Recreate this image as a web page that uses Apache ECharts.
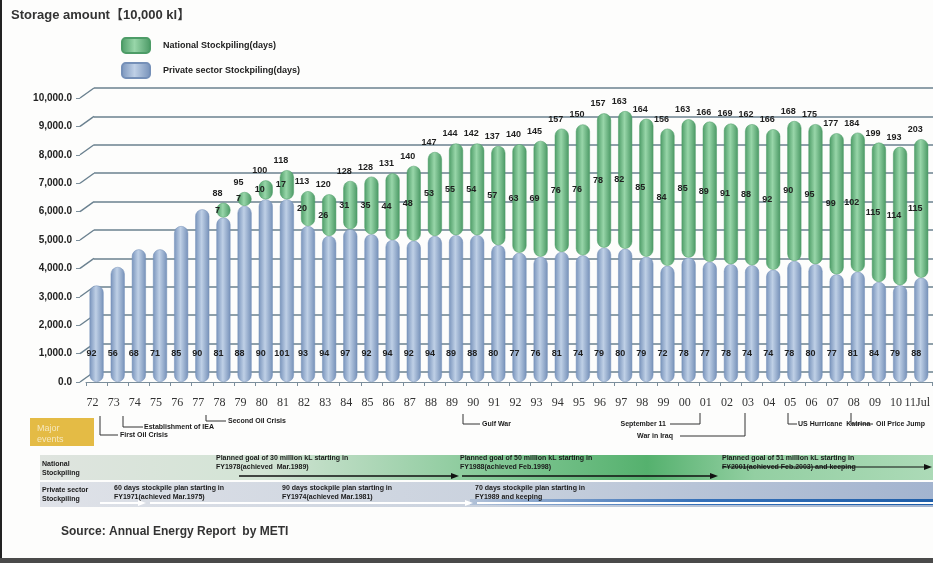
<!DOCTYPE html>
<html>
<head>
<meta charset="utf-8">
<script src="https://cdn.jsdelivr.net/npm/echarts@6/dist/echarts.min.js"></script>
<style>
  html, body { margin: 0; padding: 0; background: #fdfdfc; }
  #main { width: 933px; height: 563px; }
</style>
</head>
<body>
<div id="main"></div>
<script>
// 年份 (横轴)
var years = ['72','73','74','75','76','77','78','79','80','81','82','83','84','85','86','87','88','89','90','91',
             '92','93','94','95','96','97','98','99','00','01','02','03','04','05','06','07','08','09','10','11Jul'];
// 民间储备量 (万kl)
var privAmount = [3400,4050,4670,4670,5490,6080,5790,6200,6430,6430,
                  5490,5140,5380,5200,5000,4970,5140,5170,5170,4820,
                  4550,4410,4580,4460,4730,4690,4410,4090,4380,4230,
                  4150,4110,3950,4260,4150,3790,3880,3520,3410,3670];
// 国家储备量 (万kl)
var natAmount = [null,null,null,null,null,null,520,490,670,1030,
                 1230,1470,1700,2030,2350,2640,2960,3230,3230,3490,
                 3820,4080,4340,4610,4730,4850,4860,4830,4870,4940,
                 4950,4970,4950,4930,4930,4970,4900,4910,4870,4880];
// 天数
var privDays = [92,56,68,71,85,90,81,88,90,101,93,94,97,92,94,92,94,89,88,80,
                77,76,81,74,79,80,79,72,78,77,78,74,74,78,80,77,81,84,79,88];
var natDays = [null,null,null,null,null,null,7,7,10,17,20,26,31,35,44,48,53,55,54,57,
               63,69,76,76,78,82,85,84,85,89,91,88,92,90,95,99,102,115,114,115];
var totalDays = [null,null,null,null,null,null,88,95,100,118,113,120,128,128,131,140,147,144,142,137,
                 140,145,157,150,157,163,164,156,163,166,169,162,166,168,175,177,184,199,193,203];
// 纵轴刻度
var yTicks = [0,1000,2000,3000,4000,5000,6000,7000,8000,9000,10000];

var chart = echarts.init(document.getElementById('main'));

var blueFill = new echarts.graphic.LinearGradient(0, 0, 1, 0, [
    {offset: 0, color: '#7893bb'}, {offset: 0.45, color: '#bfd0e6'}, {offset: 1, color: '#7590b8'}]);
var greenFill = new echarts.graphic.LinearGradient(0, 0, 1, 0, [
    {offset: 0, color: '#4d9c67'}, {offset: 0.45, color: '#98d6a9'}, {offset: 1, color: '#4a9864'}]);

var totals = privAmount.map(function (v, i) {
    return natAmount[i] == null ? null : v + natAmount[i];
});

function fmtY(v) {
    return v.toLocaleString('en-US', {minimumFractionDigits: 1, maximumFractionDigits: 1});
}

var smallFont = {fontFamily: 'Liberation Sans, Arial', fontSize: 7, fontWeight: 'bold', fill: '#1a1a1a', lineHeight: 9};

function txt(x, y, s, extra) {
    var st = Object.assign({text: s, x: x, y: y}, smallFont, extra || {});
    return {type: 'text', silent: true, style: st};
}
function pline(points, color, w) {
    return {type: 'polyline', silent: true, shape: {points: points}, style: {stroke: color || '#333', lineWidth: w || 1, fill: null}};
}
function arrow(x1, x2, y, color, w) {
    return [
        {type: 'line', silent: true, shape: {x1: x1, y1: y, x2: x2 - 6, y2: y}, style: {stroke: color, lineWidth: w}},
        {type: 'polygon', silent: true, shape: {points: [[x2 - 8, y - 3], [x2, y], [x2 - 8, y + 3]]}, style: {fill: color}}
    ];
}

// 下方 事件与计划说明
var graphics = [
    {type: 'rect', silent: true, shape: {x: 0, y: 0, width: 2, height: 563}, style: {fill: '#222'}},
    {type: 'rect', silent: true, shape: {x: 0, y: 558, width: 933, height: 5}, style: {fill: '#4a4a4a'}},
    {type: 'rect', silent: true, shape: {x: 30, y: 418, width: 64, height: 28}, style: {fill: '#e4bb45'}},
    txt(37, 423, 'Major\nevents', {fontSize: 9, fontWeight: 'normal', fill: '#f6e7bd', lineHeight: 11}),
    pline([[100, 416], [100, 435], [118, 435]]), txt(120, 431, 'First Oil Crisis'),
    pline([[123, 416], [123, 427], [143, 427]]), txt(144, 423, 'Establishment of IEA'),
    pline([[206, 415], [206, 421], [226, 421]]), txt(228, 417, 'Second Oil Crisis'),
    pline([[463, 414], [463, 424], [480, 424]]), txt(482, 420, 'Gulf War'),
    txt(666, 420, 'September 11', {align: 'right'}), pline([[670, 424], [700, 424], [700, 413]]),
    txt(673, 432, 'War in Iraq', {align: 'right'}), pline([[680, 436], [745, 436], [745, 413]]),
    pline([[788, 413], [788, 424], [797, 424]]), txt(798, 420, 'US Hurricane  Katrina'),
    pline([[851, 413], [851, 424], [873, 424]]), txt(876, 420, 'Oil Price Jump'),
    {type: 'rect', silent: true, shape: {x: 40, y: 455, width: 893, height: 25},
     style: {fill: new echarts.graphic.LinearGradient(0, 0, 1, 0, [
        {offset: 0, color: '#dfe4df'}, {offset: 0.25, color: '#d3e4d5'}, {offset: 0.5, color: '#86c998'},
        {offset: 0.68, color: '#55b16e'}, {offset: 0.8, color: '#93cfa2'}, {offset: 1, color: '#acdab7'}])}},
    {type: 'rect', silent: true, shape: {x: 40, y: 482, width: 893, height: 25},
     style: {fill: new echarts.graphic.LinearGradient(0, 0, 1, 0, [
        {offset: 0, color: '#dfe2e8'}, {offset: 0.5, color: '#cad2de'}, {offset: 1, color: '#a3b4cf'}])}},
    {type: 'rect', silent: true, shape: {x: 470, y: 499, width: 463, height: 6},
     style: {fill: new echarts.graphic.LinearGradient(0, 0, 1, 0, [
        {offset: 0, color: 'rgba(40,100,180,0.15)'}, {offset: 0.5, color: '#3570b8'}, {offset: 1, color: '#1f5ea8'}])}},
    txt(42, 460, 'National\nStockpiling'),
    txt(216, 454, 'Planned goal of 30 million kL starting in\nFY1978(achieved  Mar.1989)'),
    txt(460, 454, 'Planned goal of 50 million kL starting in\nFY1988(achieved Feb.1998)'),
    txt(722, 454, 'Planned goal of 51 million kL starting in\nFY2001(achieved Feb.2003) and keeping'),
    txt(42, 486, 'Private sector\nStockpiling'),
    txt(114, 484, '60 days stockpile plan starting in\nFY1971(achieved Mar.1975)'),
    txt(282, 484, '90 days stockpile plan starting in\nFY1974(achieved Mar.1981)'),
    txt(475, 484, '70 days stockpile plan starting in\nFY1989 and keeping'),
    {type: 'text', silent: true, style: {text: 'Source: Annual Energy Report  by METI', x: 61, y: 526,
        fontFamily: 'Liberation Sans, Arial', fontSize: 12, fontWeight: 'bold', fill: '#333'}}
];
graphics = graphics
    .concat(arrow(239, 459, 476, '#111', 1.6))
    .concat(arrow(462, 718, 476, '#111', 1.6))
    .concat(arrow(722, 932, 467, '#111', 1.2))
    .concat(arrow(100, 146, 503, '#fff', 2))
    .concat(arrow(150, 473, 503, '#fff', 2))
    .concat([{type: 'line', silent: true, shape: {x1: 477, y1: 503, x2: 933, y2: 503}, style: {stroke: '#fff', lineWidth: 2}}]);

var labelFont = {fontFamily: 'Liberation Sans, Arial', fontSize: 9, fontWeight: 'bold', color: '#1e1e1e',
                 textBorderWidth: 0};

option = {
    backgroundColor: '#fdfdfc',
    animation: false,
    title: {
        text: 'Storage amount【10,000 kl】',
        left: 6, top: 4,
        textStyle: {fontFamily: 'Liberation Sans, Noto Sans CJK JP', fontSize: 13, fontWeight: 'bold', color: '#333'}
    },
    legend: {
        orient: 'vertical',
        left: 116, top: 32,
        itemWidth: 28, itemHeight: 15, itemGap: 8,
        icon: 'roundRect',
        data: ['National Stockpiling(days)', 'Private sector Stockpiling(days)'],
        textStyle: {fontFamily: 'Liberation Sans, Arial', fontSize: 9, fontWeight: 'bold', color: '#222', padding: [0, 0, 0, 8]}
    },
    grid: [
        {left: 86, right: 1, top: 98, height: 284},
        {left: 94, right: 0, top: 88, height: 284}
    ],
    xAxis: [{
        type: 'category',
        gridIndex: 0,
        data: years,
        axisLine: {lineStyle: {color: '#7b8e9b', width: 1}},
        axisTick: {show: true, length: 4, lineStyle: {color: '#7b8e9b'}},
        axisLabel: {interval: 0, margin: 15, padding: [0, 8, 0, 0],
                    fontFamily: 'Liberation Serif, Times New Roman', fontSize: 12, color: '#333'}
    }, {
        type: 'value', gridIndex: 1, show: false, min: 0, max: 1
    }],
    yAxis: [{
        type: 'value',
        gridIndex: 0,
        min: yTicks[0], max: yTicks[yTicks.length - 1], interval: 1000,
        offset: 6,
        axisLine: {show: false},
        axisTick: {show: true, length: 4, lineStyle: {color: '#7b8e9b'}},
        splitLine: {show: false},
        axisLabel: {margin: 8, fontFamily: 'Liberation Sans, Arial', fontSize: 10, fontWeight: 'bold', color: '#222',
                    formatter: fmtY}
    }, {
        type: 'value',
        gridIndex: 1,
        min: yTicks[0], max: yTicks[yTicks.length - 1], interval: 1000,
        axisLine: {show: false}, axisTick: {show: false}, axisLabel: {show: false},
        splitLine: {show: true, lineStyle: {color: '#6a808f', width: 1.6}}
    }],
    series: [{
        name: 'Private sector Stockpiling(days)',
        type: 'bar',
        stack: 'amt',
        barWidth: 14,
        data: privAmount,
        itemStyle: {color: blueFill, borderRadius: 7, borderColor: '#7590b8', borderWidth: 0.5},
        label: Object.assign({
            show: true, position: 'insideBottom', distance: 24, offset: [-5, 0],
            formatter: function (p) { return privDays[p.dataIndex]; }
        }, labelFont),
        z: 3
    }, {
        name: 'National Stockpiling(days)',
        type: 'bar',
        stack: 'amt',
        barWidth: 14,
        data: natAmount,
        itemStyle: {color: greenFill, borderRadius: 7, borderColor: '#4d9c67', borderWidth: 0.5},
        label: Object.assign({
            show: true, position: 'inside', offset: [-6, 0],
            formatter: function (p) { return natDays[p.dataIndex]; }
        }, labelFont),
        z: 3
    }, {
        // 合计天数 标在柱顶
        type: 'scatter',
        data: totals,
        symbolSize: 0.1,
        itemStyle: {color: '#111', opacity: 1},
        silent: true,
        label: Object.assign({
            show: true, position: 'top', distance: 5, offset: [-6, 0],
            formatter: function (p) { return totalDays[p.dataIndex]; }
        }, labelFont),
        z: 4
    }, {
        // 左侧立体边 斜线
        type: 'custom',
        silent: true,
        data: yTicks.map(function (v) { return [0, v]; }),
        renderItem: function (params, api) {
            var y = api.coord([0, api.value(1)])[1];
            var x0 = params.coordSys.x;
            return {type: 'line', shape: {x1: x0 - 6, y1: y, x2: x0 + 8, y2: y - 10},
                    style: {stroke: '#6a808f', lineWidth: 1.4}};
        },
        z: 1
    }],
    graphic: graphics
};
chart.setOption(option);
</script>
</body>
</html>
